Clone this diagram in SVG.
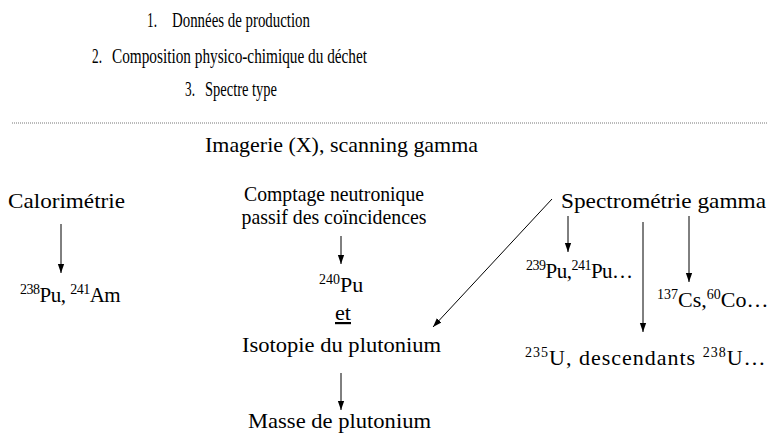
<svg xmlns="http://www.w3.org/2000/svg" width="781" height="435" viewBox="0 0 781 435">
<style>
text{font-family:"Liberation Serif","DejaVu Serif",serif;font-size:22px;fill:#000}
.top{font-size:21px}
.sup{font-size:14px}
.tight{font-size:21px;letter-spacing:-0.5px}
.c{stroke:#000;stroke-width:1;fill:none}
</style>
<defs>
<marker id="ah" viewBox="0 0 10 10" refX="10" refY="5" markerWidth="9" markerHeight="9" markerUnits="userSpaceOnUse" orient="auto"><path d="M0,1.5 L10,5 L0,8.5 Z" fill="#000"/></marker>
</defs>
<rect width="781" height="435" fill="#fff"/>
<g id="list">
<text class="top" x="147" y="27" textLength="10" lengthAdjust="spacingAndGlyphs">1.</text><text class="top" x="172" y="27" textLength="138" lengthAdjust="spacingAndGlyphs">Données de production</text>
<text class="top" x="92" y="63" textLength="10" lengthAdjust="spacingAndGlyphs">2.</text><text class="top" x="112" y="63" textLength="255" lengthAdjust="spacingAndGlyphs">Composition physico-chimique du déchet</text>
<text class="top" x="185" y="96" textLength="10" lengthAdjust="spacingAndGlyphs">3.</text><text class="top" x="205" y="96" textLength="72" lengthAdjust="spacingAndGlyphs">Spectre type</text>
</g>
<line x1="12" y1="123" x2="767" y2="123" stroke="#777" stroke-width="1" stroke-dasharray="1,1"/>
<g id="imagerie"><text x="205" y="152" textLength="273" lengthAdjust="spacingAndGlyphs">Imagerie (X), scanning gamma</text></g>
<g id="calorimetrie"><text x="8" y="208" textLength="117" lengthAdjust="spacingAndGlyphs">Calorimétrie</text></g>
<g id="comptage">
<text x="334" y="201" text-anchor="middle" textLength="180" lengthAdjust="spacingAndGlyphs">Comptage neutronique</text>
<text x="334" y="224" text-anchor="middle" textLength="185" lengthAdjust="spacingAndGlyphs">passif des coïncidences</text>
</g>
<g id="spectrometrie"><text x="561" y="208" textLength="205" lengthAdjust="spacingAndGlyphs">Spectrométrie gamma</text></g>
<g id="pu238am241"><text class="tight" x="20" y="302"><tspan class="sup" dy="-8">238</tspan><tspan dy="8">Pu, </tspan><tspan class="sup" dy="-8">241</tspan><tspan dy="8">Am</tspan></text></g>
<g id="pu240">
<text x="319" y="292"><tspan class="sup" dy="-8">240</tspan><tspan dy="8">Pu</tspan></text>
<text x="335" y="320" text-decoration="underline" textLength="16" lengthAdjust="spacingAndGlyphs">et</text>
<text x="242" y="352" textLength="199" lengthAdjust="spacingAndGlyphs">Isotopie du plutonium</text>
</g>
<g id="masse"><text x="248" y="428" textLength="183" lengthAdjust="spacingAndGlyphs">Masse de plutonium</text></g>
<g id="pu239"><text class="tight" x="526" y="278"><tspan class="sup" dy="-8">239</tspan><tspan dy="8">Pu,</tspan><tspan class="sup" dy="-8">241</tspan><tspan dy="8">Pu…</tspan></text></g>
<g id="cs137"><text x="657" y="307"><tspan class="sup" dy="-8">137</tspan><tspan dy="8">Cs,</tspan><tspan class="sup" dy="-8">60</tspan><tspan dy="8">Co…</tspan></text></g>
<g id="u235"><text x="525" y="365" letter-spacing="1"><tspan class="sup" dy="-8">235</tspan><tspan dy="8">U, descendants </tspan><tspan class="sup" dy="-8">238</tspan><tspan dy="8">U…</tspan></text></g>
<g id="connectors">
<line class="c" x1="61" y1="224" x2="61" y2="273" marker-end="url(#ah)"/>
<line class="c" x1="341" y1="236" x2="341" y2="264" marker-end="url(#ah)"/>
<line class="c" x1="341" y1="373" x2="341" y2="410" marker-end="url(#ah)"/>
<line class="c" x1="552" y1="199" x2="433" y2="327" marker-end="url(#ah)"/>
<line class="c" x1="568" y1="216" x2="568" y2="252" marker-end="url(#ah)"/>
<line class="c" x1="643" y1="222" x2="643" y2="332" marker-end="url(#ah)"/>
<line class="c" x1="689" y1="216" x2="689" y2="282" marker-end="url(#ah)"/>
</g>
</svg>
